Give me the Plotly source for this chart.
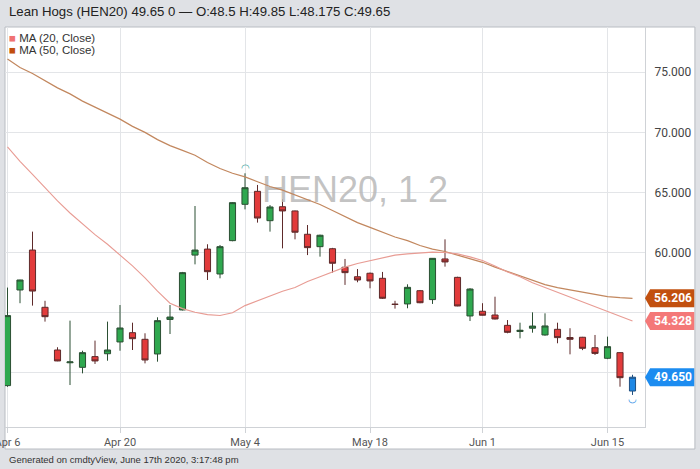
import plotly.graph_objects as go

# ---------------- data ----------------
dates = ["2020-04-06", "2020-04-07", "2020-04-08", "2020-04-09", "2020-04-13",
         "2020-04-14", "2020-04-15", "2020-04-16", "2020-04-17", "2020-04-20",
         "2020-04-21", "2020-04-22", "2020-04-23", "2020-04-24", "2020-04-27",
         "2020-04-28", "2020-04-29", "2020-04-30", "2020-05-01", "2020-05-04",
         "2020-05-05", "2020-05-06", "2020-05-07", "2020-05-08", "2020-05-11",
         "2020-05-12", "2020-05-13", "2020-05-14", "2020-05-15", "2020-05-18",
         "2020-05-19", "2020-05-20", "2020-05-21", "2020-05-22", "2020-05-26",
         "2020-05-27", "2020-05-28", "2020-05-29", "2020-06-01", "2020-06-02",
         "2020-06-03", "2020-06-04", "2020-06-05", "2020-06-08", "2020-06-09",
         "2020-06-10", "2020-06-11", "2020-06-12", "2020-06-15", "2020-06-16",
         "2020-06-17"]

opens = [48.95, 56.9, 60.22, 55.46, 51.91, 50.85, 50.47, 51.36, 51.6, 52.58,
         53.35, 52.8, 51.58, 54.45, 55.24, 59.8, 60.3, 58.23, 61.0, 64.02,
         65.1, 62.66, 63.82, 63.47, 61.53, 60.5, 60.33, 58.79, 58.0, 58.29,
         57.87, 55.72, 55.74, 56.84, 56.1, 59.48, 57.95, 54.74, 55.13, 54.82,
         53.96, 53.45, 53.72, 53.16, 53.63, 52.95, 52.97, 52.1, 51.22, 51.69,
         48.5]
highs = [57.1, 57.75, 61.75, 56.0, 52.14, 54.35, 51.85, 52.69, 54.27, 55.65,
         54.18, 53.3, 54.63, 55.65, 58.4, 63.88, 60.7, 60.64, 64.2, 66.6,
         65.63, 63.96, 64.44, 63.5, 62.3, 61.5, 60.4, 59.48, 58.64, 58.35,
         58.4, 56.0, 57.37, 56.9, 59.55, 61.11, 58.0, 57.05, 55.8, 56.34,
         54.4, 54.18, 55.04, 54.96, 54.18, 53.72, 53.0, 53.16, 53.02, 51.72,
         49.85]
lows = [48.85, 55.8, 55.6, 54.27, 50.98, 49.0, 49.97, 50.75, 51.02, 51.85,
        51.91, 50.8, 50.94, 53.24, 55.2, 59.03, 57.73, 57.87, 60.95, 63.6,
        62.5, 61.75, 60.36, 61.11, 59.8, 59.67, 58.34, 57.32, 57.54, 57.04,
        56.15, 55.35, 55.38, 55.8, 55.74, 58.84, 55.55, 54.32, 54.78, 54.45,
        53.3, 52.88, 53.35, 53.1, 52.47, 51.55, 51.9, 51.5, 51.15, 48.86,
        48.175]
closes = [54.77, 57.73, 56.81, 54.68, 51.0, 50.92, 51.69, 51.0, 51.91, 53.74,
          52.85, 51.08, 54.35, 54.65, 58.34, 60.22, 58.42, 60.5, 64.16, 65.4,
          62.88, 63.8, 63.47, 61.7, 60.42, 61.45, 59.12, 58.34, 57.73, 57.65,
          56.21, 55.7, 57.12, 55.84, 59.53, 59.23, 55.57, 56.98, 54.8, 54.49,
          53.38, 53.55, 53.9, 53.91, 52.94, 52.8, 52.05, 51.63, 52.19, 49.61,
          49.65]

ma20 = [68.8, 67.6, 66.5, 65.4, 64.3, 63.3, 62.4, 61.5, 60.7, 59.8,
        58.9, 57.9, 56.8, 55.8, 55.35, 55.05, 54.85, 54.78, 55.0, 55.6,
        56.0, 56.4, 56.8, 57.1, 57.6, 58.0, 58.4, 58.8, 59.1, 59.35,
        59.6, 59.8, 59.9, 60.0, 60.05, 60.02, 59.9, 59.65, 59.35, 58.9,
        58.4, 58.0, 57.5, 57.1, 56.7, 56.3, 55.9, 55.55, 55.1, 54.7,
        54.328]
ma50 = [76.1, 75.4, 74.9, 74.3, 73.7, 73.2, 72.6, 72.1, 71.6, 71.1,
        70.5, 70.0, 69.4, 68.9, 68.5, 68.1, 67.5, 67.0, 66.6, 66.3,
        65.9, 65.5, 65.2, 64.8, 64.4, 64.0, 63.5, 63.0, 62.5, 62.1,
        61.7, 61.3, 61.0, 60.6, 60.3, 60.1, 59.8, 59.5, 59.2, 58.8,
        58.45, 58.05, 57.7, 57.35, 57.1, 56.9, 56.72, 56.5, 56.35, 56.26,
        56.206]

tick_dates = ["2020-04-06", "2020-04-20", "2020-05-04", "2020-05-18", "2020-06-01", "2020-06-15"]
tick_text = ["Apr 6", "Apr 20", "May 4", "May 18", "Jun 1", "Jun 15"]
y_ticks = [50, 55, 60, 65, 70, 75]
y_tick_text = ["", "", "60.000", "65.000", "70.000", "75.000"]  # 50/55 hidden under price tags

title_text = "Lean Hogs (HEN20) 49.65 0 \u2014 O:48.5 H:49.85 L:48.175 C:49.65"
footer_text = "Generated on cmdtyView, June 17th 2020, 3:17:48 pm"
watermark = "HEN20, 1 2"

# ---------------- figure ----------------
idx = list(range(len(dates)))
tick_vals = [dates.index(d) for d in tick_dates]
last = len(dates) - 1

Y0, Y1 = 45.51, 78.76
X0, X1 = -0.2, 51.0

fig = go.Figure()

# watermark (behind candles)
fig.add_trace(go.Scatter(
    x=[27.8], y=[65.0], mode="text", text=[watermark],
    textfont=dict(size=36, color="rgba(185,185,185,0.85)", family="Liberation Sans"),
    hoverinfo="skip", showlegend=False))

fig.add_trace(go.Scatter(x=idx, y=ma50, mode="lines",
                         line=dict(color="#c2875e", width=1.2), showlegend=False))
fig.add_trace(go.Scatter(x=idx, y=ma20, mode="lines",
                         line=dict(color="#e89c94", width=1.1), showlegend=False))

fig.add_trace(go.Candlestick(
    x=idx[:last], open=opens[:last], high=highs[:last], low=lows[:last], close=closes[:last],
    increasing=dict(fillcolor="#2fa84f", line=dict(color="#2b4f33", width=1)),
    decreasing=dict(fillcolor="#e23b3b", line=dict(color="#5e2a2a", width=1)),
    showlegend=False))

fig.add_trace(go.Candlestick(
    x=[idx[last]], open=[opens[last]], high=[highs[last]], low=[lows[last]], close=[closes[last]],
    increasing=dict(fillcolor="#1e88e5", line=dict(color="#1f4f80", width=1)),
    decreasing=dict(fillcolor="#1e88e5", line=dict(color="#1f4f80", width=1)),
    showlegend=False))

# high / low markers
hi_i = highs.index(max(highs))
lo_i = lows.index(min(lows))
fig.add_trace(go.Scatter(x=[hi_i], y=[highs[hi_i]], mode="text", text=["\u25e0"],
                         textposition="top center",
                         textfont=dict(size=10, color="#3fa3a0"), showlegend=False, hoverinfo="skip"))
fig.add_trace(go.Scatter(x=[lo_i], y=[lows[lo_i]], mode="text", text=["\u25e1"],
                         textposition="bottom center",
                         textfont=dict(size=10, color="#1e88e5"), showlegend=False, hoverinfo="skip"))

shapes = []
# white chart panel
shapes.append(dict(type="rect", xref="paper", yref="paper", x0=0, x1=1.078, y0=-0.055, y1=1.0,
                   fillcolor="white", line=dict(color="#b8bcc2", width=1), layer="below"))

annotations = []


def ypaper(v):
    return (v - Y0) / (Y1 - Y0)


# price labels at right
for val, color in [(ma50[-1], "#c2500f"), (ma20[-1], "#f47878"), (closes[-1], "#1c8cf0")]:
    yc = ypaper(val)
    h = 9 / 400
    shapes.append(dict(type="path", xref="paper", yref="paper",
                       path=f"M 1.0,{yc} L 1.008,{yc + h} L 1.077,{yc + h} L 1.077,{yc - h} L 1.008,{yc - h} Z",
                       fillcolor=color, line=dict(width=0), layer="above"))
    annotations.append(dict(xref="paper", yref="paper", x=1.043, y=yc, text=f"<b>{val:.3f}</b>",
                            showarrow=False, xanchor="center", yanchor="middle",
                            font=dict(size=12, color="white", family="Roboto")))

# title
annotations.append(dict(xref="paper", yref="paper", x=0.003, y=1.0375, text=title_text,
                        showarrow=False, xanchor="left", yanchor="middle",
                        font=dict(size=13.2, color="#222", family="Liberation Sans")))
# legend
annotations.append(dict(xref="paper", yref="paper", x=0.003, y=0.9725,
                        text='<span style="color:#f07272">\u25a0</span> MA (20, Close)',
                        showarrow=False, xanchor="left", yanchor="middle",
                        font=dict(size=11.5, color="#333", family="Liberation Sans")))
annotations.append(dict(xref="paper", yref="paper", x=0.003, y=0.9425,
                        text='<span style="color:#c24e0e">\u25a0</span> MA (50, Close)',
                        showarrow=False, xanchor="left", yanchor="middle",
                        font=dict(size=11.5, color="#333", family="Liberation Sans")))
# footer
annotations.append(dict(xref="paper", yref="paper", x=0.003, y=-0.08, text=footer_text,
                        showarrow=False, xanchor="left", yanchor="middle",
                        font=dict(size=9.5, color="#333", family="Liberation Sans")))

fig.update_layout(
    width=700, height=469,
    margin=dict(l=5, r=55, t=27, b=42, autoexpand=False),
    paper_bgcolor="#dfe1e5",
    plot_bgcolor="white",
    showlegend=False,
    hovermode=False,
    shapes=shapes,
    annotations=annotations,
    xaxis=dict(range=[X0, X1], tickvals=tick_vals, ticktext=tick_text,
               showgrid=True, gridcolor="#e3e5e8", gridwidth=1, automargin=False,
               showline=True, linecolor="#cfd2d6", ticks="outside", ticklen=5,
               tickcolor="#cfd2d6", ticklabeloverflow="allow",
               tickfont=dict(size=11, color="#555", family="Roboto"),
               rangeslider=dict(visible=False), zeroline=False, fixedrange=True),
    yaxis=dict(range=[Y0, Y1], side="right", tickvals=y_ticks, ticktext=y_tick_text,
               showgrid=True, gridcolor="#e3e5e8", gridwidth=1, automargin=False,
               showline=True, linecolor="#cfd2d6", ticks="", ticklabelstandoff=6,
               tickfont=dict(size=12, color="#444", family="Roboto"), zeroline=False,
               fixedrange=True),
)

fig.write_html("out.html", config={"displayModeBar": False},
               post_script="document.body.style.margin='0';document.body.style.overflow='hidden';")
